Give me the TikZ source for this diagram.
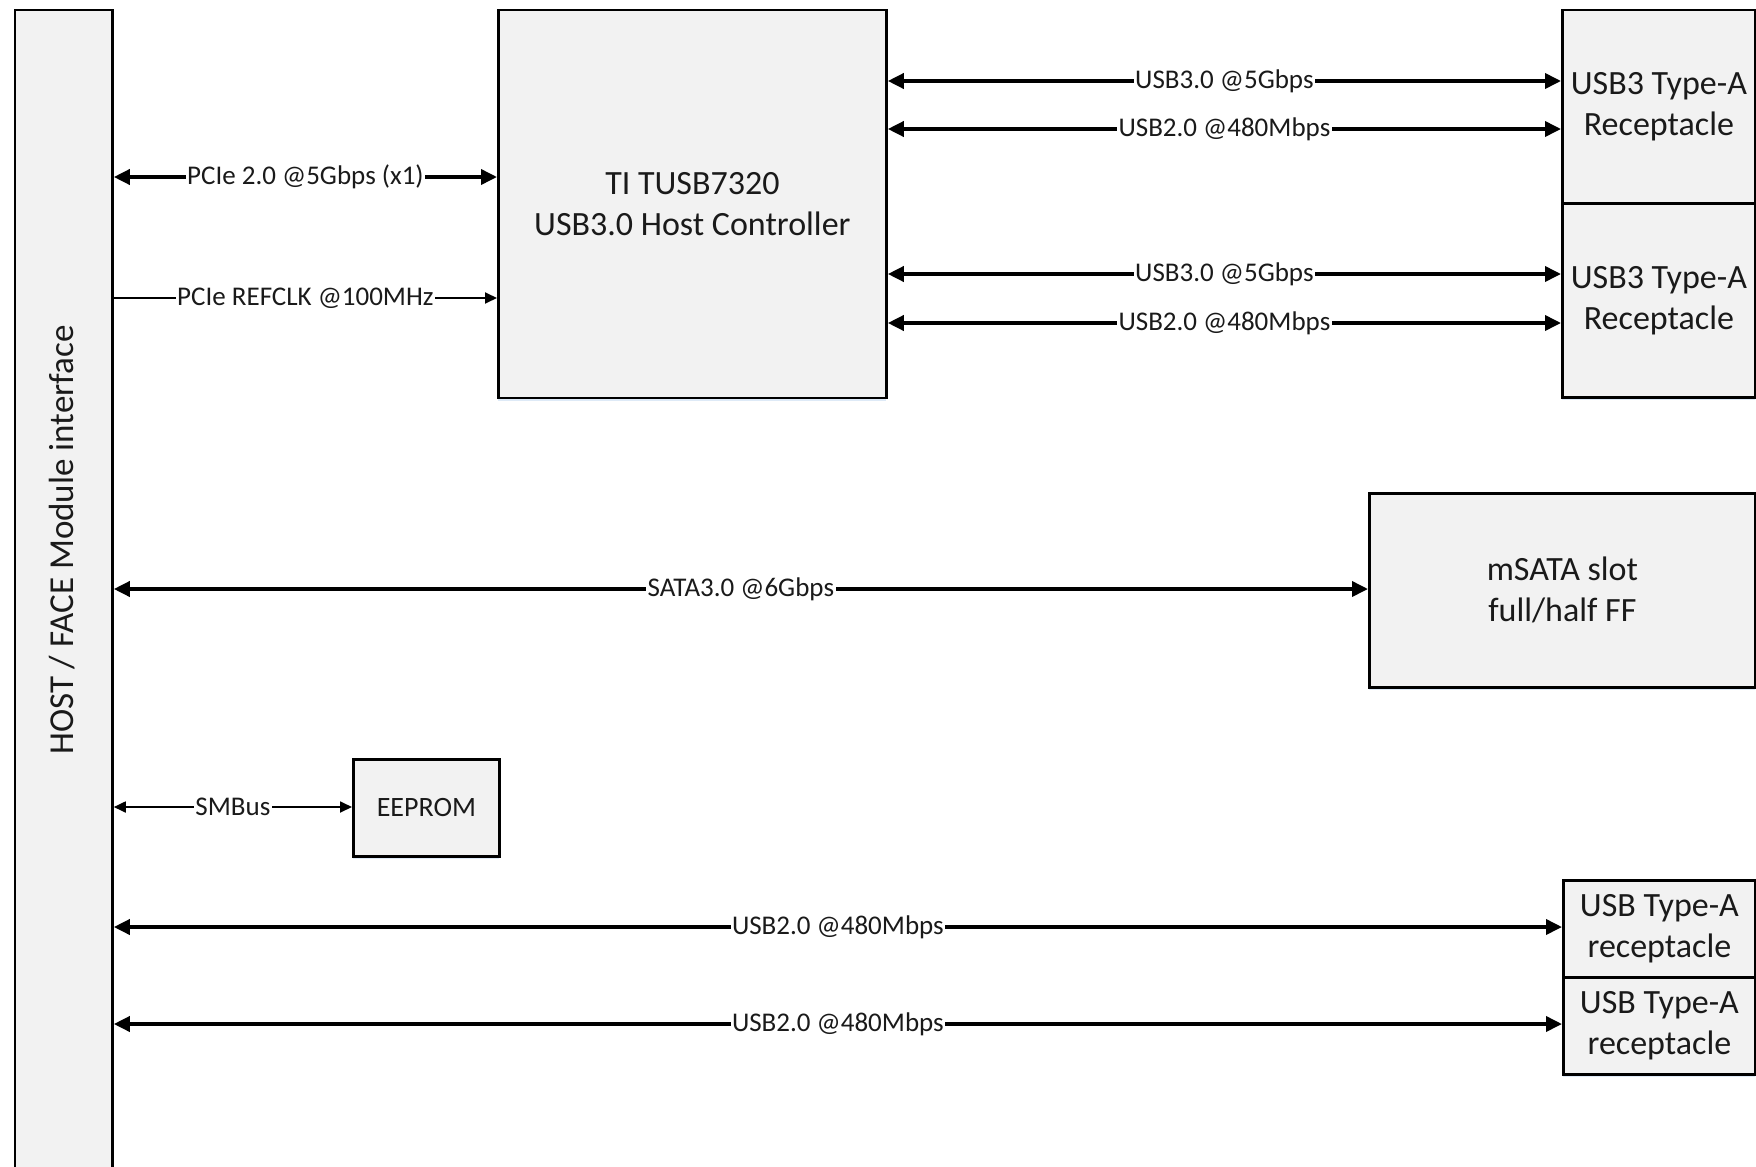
\documentclass[tikz,border=0pt]{standalone}
\usepackage{fontspec}
\setmainfont{Carlito}
\usetikzlibrary{arrows.meta,shadows}
\definecolor{boxfill}{HTML}{F2F2F2}
\definecolor{txt}{HTML}{1A1A1A}
\definecolor{shadowblue}{HTML}{C9DDF2}
\tikzset{
  box/.style={draw=black, line width=2.8pt, fill=boxfill, inner sep=0pt, align=center,
    text=txt, font=\fontsize{34}{41}\selectfont, anchor=north west,
    drop shadow={shadow xshift=0pt, shadow yshift=-3pt, fill=shadowblue, opacity=0.6}},
  thickarr/.style={draw=black, line width=3.6pt, arrows={Triangle[length=16pt,width=15pt]-Triangle[length=16pt,width=15pt]}},
  thinarr/.style={draw=black, line width=1.8pt, arrows={-Triangle[length=12pt,width=11pt]}},
  thinbiarr/.style={draw=black, line width=1.8pt, arrows={Triangle[length=12pt,width=11pt]-Triangle[length=12pt,width=11pt]}},
  lbl/.style={fill=white, inner xsep=1.5pt, inner ysep=1pt, text=txt, font=\fontsize{27}{32}\selectfont}
}
\begin{document}
\begin{tikzpicture}[x=1pt, y=-1pt]
\useasboundingbox (0,0) rectangle (1756,1167);
\fill[white] (0,0) rectangle (1756,1167);
\begin{scope}
\clip (0,0) rectangle (1756,1167);
% host panel
\node[box, minimum width=97.5pt, minimum height=1200pt] (host) at (13.5,8.5) {};
\end{scope}
\node[rotate=90, text=txt, font=\fontsize{35}{42}\selectfont, inner sep=0pt] (hostlbl) at (62,540) {HOST / FACE Module interface};

% controller
\node[box, minimum width=388pt, minimum height=388pt] (ctrl) at (497,8.5) {TI TUSB7320\\USB3.0 Host Controller};

% receptacles
\node[box, minimum width=193pt, minimum height=194pt] (rec1) at (1561,8.5) {USB3 Type-A\\Receptacle};
\node[box, minimum width=193pt, minimum height=194pt] (rec2) at (1561,202) {USB3 Type-A\\Receptacle};

% mSATA
\node[box, minimum width=386pt, minimum height=194pt] (msata) at (1368,492) {mSATA slot\\full/half FF};

% EEPROM
\node[box, minimum width=146pt, minimum height=97pt, font=\fontsize{28}{34}\selectfont] (eeprom) at (352,758) {EEPROM};

% USB2 receptacles
\node[box, minimum width=192pt, minimum height=97pt] (usb1) at (1562,879) {USB Type-A\\receptacle};
\node[box, minimum width=192pt, minimum height=97pt] (usb2) at (1562,976) {USB Type-A\\receptacle};

% connectors
\path[thickarr] (host.east |- 0,177) -- node[lbl]{PCIe 2.0 @5Gbps (x1)} (ctrl.west |- 0,177);
\path[thinarr] (host.east |- 0,298) -- node[lbl]{PCIe REFCLK @100MHz} (ctrl.west |- 0,298);

\path[thickarr] (ctrl.east |- 0,81) -- node[lbl]{USB3.0 @5Gbps} (rec1.west |- 0,81);
\path[thickarr] (ctrl.east |- 0,129) -- node[lbl]{USB2.0 @480Mbps} (rec1.west |- 0,129);
\path[thickarr] (ctrl.east |- 0,274) -- node[lbl]{USB3.0 @5Gbps} (rec2.west |- 0,274);
\path[thickarr] (ctrl.east |- 0,323) -- node[lbl]{USB2.0 @480Mbps} (rec2.west |- 0,323);

\path[thickarr] (host.east |- 0,589) -- node[lbl]{SATA3.0 @6Gbps} (msata.west |- 0,589);
\path[thinbiarr] (host.east |- 0,807) -- node[lbl]{SMBus} (eeprom.west |- 0,807);

\path[thickarr] (host.east |- 0,927) -- node[lbl]{USB2.0 @480Mbps} (usb1.west |- 0,927);
\path[thickarr] (host.east |- 0,1024) -- node[lbl]{USB2.0 @480Mbps} (usb2.west |- 0,1024);
\end{tikzpicture}
\end{document}
